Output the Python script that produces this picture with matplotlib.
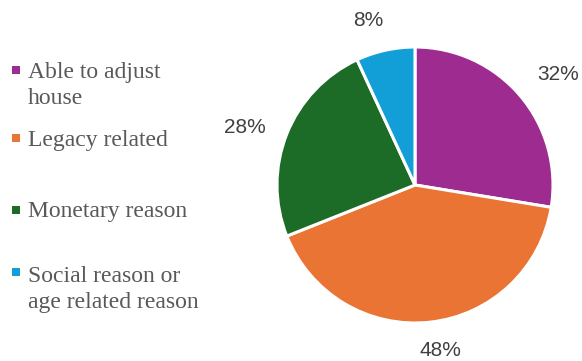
import numpy as np
import matplotlib
matplotlib.use("Agg")
from matplotlib import pyplot as plt

# shares shown on the pie (percent)
reasons = ["Able to adjust\nhouse", "Legacy related", "Monetary reason",
           "Social reason or\nage related reason"]
shares = [32, 48, 28, 8]
pct_labels = ["32%", "48%", "28%", "8%"]
colors = ["#9E2B8F", "#EA7434", "#1C6B26", "#129FD7"]

W, H = 582, 361
fig = plt.figure(figsize=(W / 100, H / 100), dpi=100)
fig.patch.set_facecolor("white")

# pie axes, 1 data unit = pie radius
cx, cy, r = 415, 185, 138
ax = fig.add_axes([(cx - r) / W, (H - cy - r) / H, 2 * r / W, 2 * r / H])
wedges, _ = ax.pie(shares, colors=colors, startangle=90, counterclock=False,
                   wedgeprops=dict(edgecolor="white", linewidth=2.2))

# outside-end labels near each wedge's mid angle (radius, angle nudge in deg)
label_dist = [1.31, 1.21, 1.30, 1.24]
label_turn = [-2.7, 2.4, 2.9, 3.5]
for w, lab, d, dt in zip(wedges, pct_labels, label_dist, label_turn):
    mid = np.deg2rad((w.theta1 + w.theta2) / 2 + dt)
    ax.text(d * np.cos(mid), d * np.sin(mid), lab, ha="center", va="center",
            fontsize=15, family="Liberation Sans", color="#404040")
ax.set_xlim(-1, 1)
ax.set_ylim(-1, 1)
ax.axis("off")

# legend drawn in pixel coords so the marker sits on the first line
lax = fig.add_axes([0, 0, 1, 1])
lax.set_xlim(0, W)
lax.set_ylim(H, 0)
lax.axis("off")
marker_y = [70, 138, 210, 272]
baseline_y = [78, 146, 217, 282]
for lab, col, my, by in zip(reasons, colors, marker_y, baseline_y):
    lax.scatter([16], [my], marker="s", s=40, color=col, linewidths=0)
    for k, line in enumerate(lab.split("\n")):
        lax.text(28, by + 26 * k, line, fontsize=17, family="Liberation Serif",
                 color="#595959", va="baseline", ha="left")

fig.savefig("out.png", dpi=100)
